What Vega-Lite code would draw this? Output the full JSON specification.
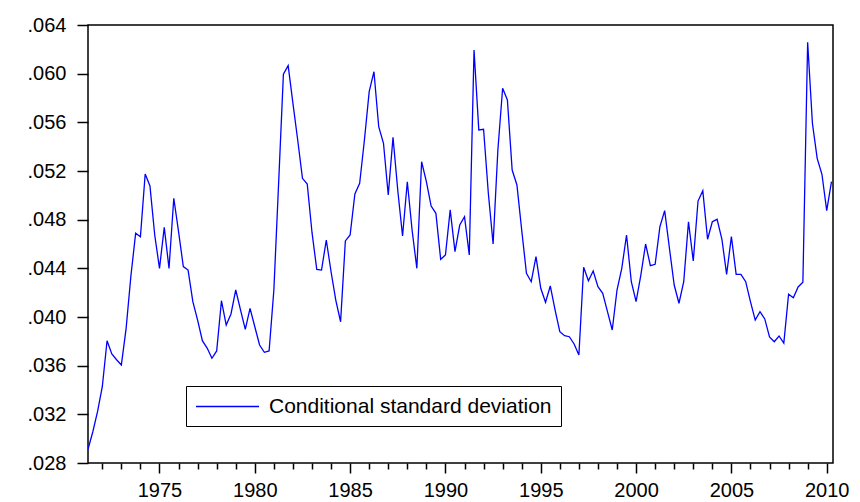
{
  "$schema": "https://vega.github.io/schema/vega-lite/v6.json",
  "width": 745,
  "height": 438,
  "autosize": "none",
  "padding": {"left": 88, "top": 25, "right": 27, "bottom": 39},
  "background": "white",
  "config": {"view": {"stroke": "black", "strokeWidth": 1.5}, "font": "Liberation Sans"},
  "data": {"values": [
    {"t": 1971.25, "v": 0.02913}, {"t": 1971.5, "v": 0.03055}, {"t": 1971.75, "v": 0.03222}, {"t": 1972.0, "v": 0.03427},
    {"t": 1972.25, "v": 0.03805}, {"t": 1972.5, "v": 0.03696}, {"t": 1972.75, "v": 0.03649}, {"t": 1973.0, "v": 0.03606},
    {"t": 1973.25, "v": 0.03907}, {"t": 1973.5, "v": 0.04337}, {"t": 1973.75, "v": 0.04688}, {"t": 1974.0, "v": 0.04660},
    {"t": 1974.25, "v": 0.05175}, {"t": 1974.5, "v": 0.05077}, {"t": 1974.75, "v": 0.04674}, {"t": 1975.0, "v": 0.04400},
    {"t": 1975.25, "v": 0.04737}, {"t": 1975.5, "v": 0.04400}, {"t": 1975.75, "v": 0.04976}, {"t": 1976.0, "v": 0.04701},
    {"t": 1976.25, "v": 0.04414}, {"t": 1976.5, "v": 0.04386}, {"t": 1976.75, "v": 0.04126}, {"t": 1977.0, "v": 0.03975},
    {"t": 1977.25, "v": 0.03805}, {"t": 1977.5, "v": 0.03745}, {"t": 1977.75, "v": 0.03661}, {"t": 1978.0, "v": 0.03721},
    {"t": 1978.25, "v": 0.04134}, {"t": 1978.5, "v": 0.03934}, {"t": 1978.75, "v": 0.04025}, {"t": 1979.0, "v": 0.04222},
    {"t": 1979.25, "v": 0.04058}, {"t": 1979.5, "v": 0.03899}, {"t": 1979.75, "v": 0.04071}, {"t": 1980.0, "v": 0.03920},
    {"t": 1980.25, "v": 0.03770}, {"t": 1980.5, "v": 0.03710}, {"t": 1980.75, "v": 0.03721}, {"t": 1981.0, "v": 0.04222},
    {"t": 1981.25, "v": 0.05101}, {"t": 1981.5, "v": 0.05995}, {"t": 1981.75, "v": 0.06066}, {"t": 1982.0, "v": 0.05756},
    {"t": 1982.25, "v": 0.05455}, {"t": 1982.5, "v": 0.05140}, {"t": 1982.75, "v": 0.05093}, {"t": 1983.0, "v": 0.04695},
    {"t": 1983.25, "v": 0.04392}, {"t": 1983.5, "v": 0.04386}, {"t": 1983.75, "v": 0.04633}, {"t": 1984.0, "v": 0.04372},
    {"t": 1984.25, "v": 0.04137}, {"t": 1984.5, "v": 0.03961}, {"t": 1984.75, "v": 0.04625}, {"t": 1985.0, "v": 0.04674},
    {"t": 1985.25, "v": 0.05011}, {"t": 1985.5, "v": 0.05099}, {"t": 1985.75, "v": 0.05455}, {"t": 1986.0, "v": 0.05852},
    {"t": 1986.25, "v": 0.06016}, {"t": 1986.5, "v": 0.05564}, {"t": 1986.75, "v": 0.05428}, {"t": 1987.0, "v": 0.05003},
    {"t": 1987.25, "v": 0.05477}, {"t": 1987.5, "v": 0.05040}, {"t": 1987.75, "v": 0.04666}, {"t": 1988.0, "v": 0.05112},
    {"t": 1988.25, "v": 0.04715}, {"t": 1988.5, "v": 0.04400}, {"t": 1988.75, "v": 0.05276}, {"t": 1989.0, "v": 0.05112},
    {"t": 1989.25, "v": 0.04912}, {"t": 1989.5, "v": 0.04852}, {"t": 1989.75, "v": 0.04474}, {"t": 1990.0, "v": 0.04510},
    {"t": 1990.25, "v": 0.04880}, {"t": 1990.5, "v": 0.04537}, {"t": 1990.75, "v": 0.04756}, {"t": 1991.0, "v": 0.04824},
    {"t": 1991.25, "v": 0.04510}, {"t": 1991.5, "v": 0.06195}, {"t": 1991.75, "v": 0.05537}, {"t": 1992.0, "v": 0.05543},
    {"t": 1992.25, "v": 0.05017}, {"t": 1992.5, "v": 0.04600}, {"t": 1992.75, "v": 0.05373}, {"t": 1993.0, "v": 0.05880},
    {"t": 1993.25, "v": 0.05784}, {"t": 1993.5, "v": 0.05208}, {"t": 1993.75, "v": 0.05085}, {"t": 1994.0, "v": 0.04715},
    {"t": 1994.25, "v": 0.04359}, {"t": 1994.5, "v": 0.04290}, {"t": 1994.75, "v": 0.04496}, {"t": 1995.0, "v": 0.04236},
    {"t": 1995.25, "v": 0.04121}, {"t": 1995.5, "v": 0.04255}, {"t": 1995.75, "v": 0.04058}, {"t": 1996.0, "v": 0.03879},
    {"t": 1996.25, "v": 0.03846}, {"t": 1996.5, "v": 0.03838}, {"t": 1996.75, "v": 0.03778}, {"t": 1997.0, "v": 0.03688},
    {"t": 1997.25, "v": 0.04409}, {"t": 1997.5, "v": 0.04298}, {"t": 1997.75, "v": 0.04378}, {"t": 1998.0, "v": 0.04249},
    {"t": 1998.25, "v": 0.04195}, {"t": 1998.5, "v": 0.04044}, {"t": 1998.75, "v": 0.03893}, {"t": 1999.0, "v": 0.04222},
    {"t": 1999.25, "v": 0.04400}, {"t": 1999.5, "v": 0.04674}, {"t": 1999.75, "v": 0.04290}, {"t": 2000.0, "v": 0.04126},
    {"t": 2000.25, "v": 0.04345}, {"t": 2000.5, "v": 0.04600}, {"t": 2000.75, "v": 0.04422}, {"t": 2001.0, "v": 0.04433},
    {"t": 2001.25, "v": 0.04742}, {"t": 2001.5, "v": 0.04874}, {"t": 2001.75, "v": 0.04565}, {"t": 2002.0, "v": 0.04263},
    {"t": 2002.25, "v": 0.04113}, {"t": 2002.5, "v": 0.04290}, {"t": 2002.75, "v": 0.04783}, {"t": 2003.0, "v": 0.04460},
    {"t": 2003.25, "v": 0.04953}, {"t": 2003.5, "v": 0.05038}, {"t": 2003.75, "v": 0.04639}, {"t": 2004.0, "v": 0.04783},
    {"t": 2004.25, "v": 0.04803}, {"t": 2004.5, "v": 0.04641}, {"t": 2004.75, "v": 0.04351}, {"t": 2005.0, "v": 0.04660},
    {"t": 2005.25, "v": 0.04351}, {"t": 2005.5, "v": 0.04351}, {"t": 2005.75, "v": 0.04290}, {"t": 2006.0, "v": 0.04126},
    {"t": 2006.25, "v": 0.03975}, {"t": 2006.5, "v": 0.04044}, {"t": 2006.75, "v": 0.03984}, {"t": 2007.0, "v": 0.03836},
    {"t": 2007.25, "v": 0.03797}, {"t": 2007.5, "v": 0.03844}, {"t": 2007.75, "v": 0.03786}, {"t": 2008.0, "v": 0.04187},
    {"t": 2008.25, "v": 0.04159}, {"t": 2008.5, "v": 0.04247}, {"t": 2008.75, "v": 0.04285}, {"t": 2009.0, "v": 0.06258},
    {"t": 2009.25, "v": 0.05592}, {"t": 2009.5, "v": 0.05304}, {"t": 2009.75, "v": 0.05173}, {"t": 2010.0, "v": 0.04874},
    {"t": 2010.25, "v": 0.05112}
  ]},
  "mark": {"type": "line", "strokeWidth": 1.3, "clip": true},
  "encoding": {
    "x": {
      "field": "t", "type": "quantitative",
      "scale": {"domain": [1971.25, 2010.33], "nice": false, "zero": false},
      "axis": {
        "title": null, "grid": false, "domain": false,
        "values": [1972,1973,1974,1975,1976,1977,1978,1979,1980,1981,1982,1983,1984,1985,1986,1987,1988,1989,1990,1991,1992,1993,1994,1995,1996,1997,1998,1999,2000,2001,2002,2003,2004,2005,2006,2007,2008,2009,2010],
        "labelExpr": "datum.value % 5 === 0 ? '' + datum.value : ''",
        "tickSize": {"condition": {"test": "datum.value % 5 === 0", "value": 10}, "value": 6},
        "tickColor": "black", "tickWidth": 1.5,
        "labelFontSize": 20, "labelColor": "black", "labelPadding": 7,
        "labelFlush": false, "labelOverlap": false, "labelBound": false
      }
    },
    "y": {
      "field": "v", "type": "quantitative",
      "scale": {"domain": [0.028, 0.064], "nice": false, "zero": false},
      "axis": {
        "title": null, "grid": false, "domain": false,
        "values": [0.028, 0.032, 0.036, 0.040, 0.044, 0.048, 0.052, 0.056, 0.060, 0.064],
        "labelExpr": "substring(format(datum.value, '.3f'), 1)",
        "tickSize": 11, "tickColor": "black", "tickWidth": 1.5,
        "labelFontSize": 20, "labelColor": "black", "labelPadding": 11,
        "labelFlush": false, "labelOverlap": false, "labelBound": false
      }
    },
    "color": {
      "datum": "Conditional standard deviation",
      "scale": {"range": ["#0000FF"]},
      "legend": {
        "title": null, "orient": "none", "legendX": 98, "legendY": 361,
        "strokeColor": "black", "fillColor": "white", "padding": 9,
        "symbolType": "M-3,0H3", "symbolSize": 441, "symbolStrokeWidth": 1.3,
        "symbolOffset": 21,
        "labelFontSize": 21, "labelColor": "black", "labelOffset": 30, "labelLimit": 0
      }
    }
  }
}
